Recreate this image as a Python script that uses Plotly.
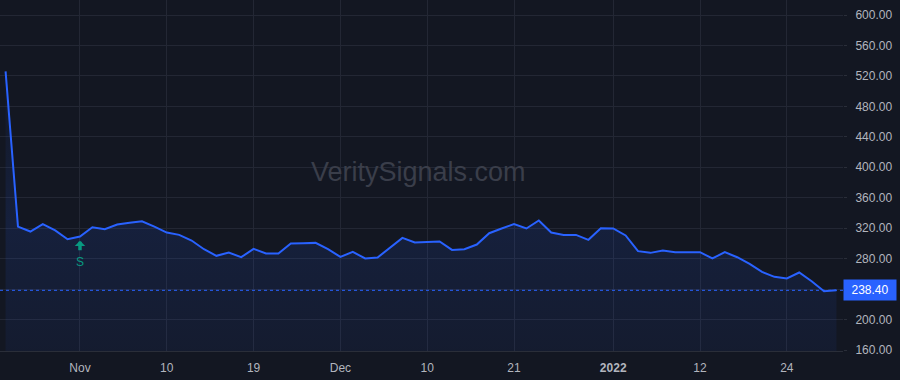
import plotly.graph_objects as go

dates = [
    "2021-10-22", "2021-10-25", "2021-10-26", "2021-10-27", "2021-10-28", "2021-10-29",
    "2021-11-01", "2021-11-02", "2021-11-03", "2021-11-04", "2021-11-05",
    "2021-11-08", "2021-11-09", "2021-11-10", "2021-11-11", "2021-11-12",
    "2021-11-15", "2021-11-16", "2021-11-17", "2021-11-18", "2021-11-19",
    "2021-11-22", "2021-11-23", "2021-11-24", "2021-11-26",
    "2021-11-29", "2021-11-30",
    "2021-12-01", "2021-12-02", "2021-12-03",
    "2021-12-06", "2021-12-07", "2021-12-08", "2021-12-09", "2021-12-10",
    "2021-12-13", "2021-12-14", "2021-12-15", "2021-12-16", "2021-12-17",
    "2021-12-20", "2021-12-21", "2021-12-22", "2021-12-23",
    "2021-12-27", "2021-12-28", "2021-12-29", "2021-12-30", "2021-12-31",
    "2022-01-03", "2022-01-04", "2022-01-05", "2022-01-06", "2022-01-07",
    "2022-01-10", "2022-01-11", "2022-01-12", "2022-01-13", "2022-01-14",
    "2022-01-18", "2022-01-19", "2022-01-20", "2022-01-21",
    "2022-01-24", "2022-01-25", "2022-01-26", "2022-01-27", "2022-01-28",
]

prices = [
    526.0, 322.0, 315.6, 325.3, 317.0, 305.5,
    309.0, 321.3, 318.7, 324.8, 327.0,
    329.0, 322.0, 314.3, 311.2, 303.8,
    292.4, 283.7, 288.0, 281.9, 292.9,
    286.7, 286.7, 299.9, 300.3,
    300.7, 292.4,
    282.3, 288.9, 280.2,
    281.5, 294.6, 307.3, 301.2, 301.6,
    302.5, 291.5, 292.4, 298.5, 313.4,
    319.6, 325.3, 319.6, 330.1,
    314.3, 311.2, 311.2, 304.7, 320.0,
    319.6, 310.4, 289.8, 287.6, 290.7,
    288.5, 288.5, 288.5, 280.2, 288.5,
    281.9, 273.2, 262.6, 256.1,
    253.9, 261.8, 250.4, 237.2, 238.4,
]

x_tick_dates = ["2021-11-01", "2021-11-10", "2021-11-19", "2021-12-01", "2021-12-10",
                "2021-12-21", "2022-01-03", "2022-01-12", "2022-01-24"]
x_tick_labels = ["Nov", "10", "19", "Dec", "10", "21", "<b>2022</b>", "12", "24"]

y_ticks = [160, 200, 240, 280, 320, 360, 400, 440, 480, 520, 560, 600]
y_tick_labels = ["160.00", "200.00", "", "280.00", "320.00", "360.00", "400.00",
                 "440.00", "480.00", "520.00", "560.00", "600.00"]

last_price = 238.40
signal_date = "2021-11-01"
signal_arrow_tip = 303.5
signal_label_y = 275.0

BG = "#131722"
GRID = "#232734"
TEXT = "#b2b5be"
BLUE = "#2962ff"
GREEN = "#089981"

fig = go.Figure()
fig.add_trace(go.Scatter(
    x=dates, y=prices, mode="lines",
    line=dict(color=BLUE, width=2),
    fill="tozeroy",
    fillgradient=dict(
        type="vertical", start=158, stop=530,
        colorscale=[[0, "rgba(41,98,255,0.06)"], [0.45, "rgba(41,98,255,0.12)"],
                    [1, "rgba(41,98,255,0.02)"]],
    ),
    hoverinfo="skip", showlegend=False,
))

fig.add_shape(type="line", xref="paper", x0=0, x1=1, yref="y", y0=last_price, y1=last_price,
              line=dict(color=BLUE, width=1, dash="dot"))

fig.add_annotation(xref="paper", x=1, yref="y", y=last_price, xanchor="left", yanchor="middle",
                   text=f"{last_price:.2f}", showarrow=False, bgcolor=BLUE, borderpad=3,
                   font=dict(color="#ffffff", size=12, family="Liberation Sans, Arial"),
                   xshift=0, width=46, align="center")

fig.add_annotation(xref="paper", yref="paper", x=0.497, y=0.51, text="VeritySignals.com",
                   showarrow=False, font=dict(size=27, color="#3a3e4a", family="Liberation Sans, Arial"))

fig.add_annotation(x=signal_date, y=signal_arrow_tip, text="", showarrow=True,
                   ax=0, ay=11, arrowcolor=GREEN, arrowwidth=3.5, arrowhead=1, arrowsize=0.5)
fig.add_annotation(x=signal_date, y=signal_label_y, text="S", showarrow=False,
                   font=dict(size=12, color=GREEN, family="Liberation Sans, Arial"))

fig.update_layout(
    width=900, height=380,
    margin=dict(l=0, r=57, t=0, b=29),
    paper_bgcolor=BG, plot_bgcolor=BG,
    font=dict(family="Liberation Sans, Arial", size=12, color=TEXT),
    xaxis=dict(
        type="category", range=[-0.45, 67.53],
        tickvals=x_tick_dates, ticktext=x_tick_labels,
        showgrid=True, gridcolor=GRID, gridwidth=1,
        showline=True, linecolor="#2a2e39", linewidth=1,
        ticks="outside", ticklen=6, tickcolor=BG,
        tickfont=dict(size=12, color=TEXT),
        zeroline=False, fixedrange=True,
    ),
    yaxis=dict(
        side="right", range=[158.7, 619.7],
        tickvals=y_ticks, ticktext=y_tick_labels,
        showgrid=True, gridcolor=GRID, gridwidth=1,
        zeroline=False, showline=False,
        ticks="outside", ticklen=3, tickcolor="#2a2e39",
        ticklabelstandoff=6,
        tickfont=dict(size=12, color=TEXT),
    ),
)

fig.write_html("out.html")
